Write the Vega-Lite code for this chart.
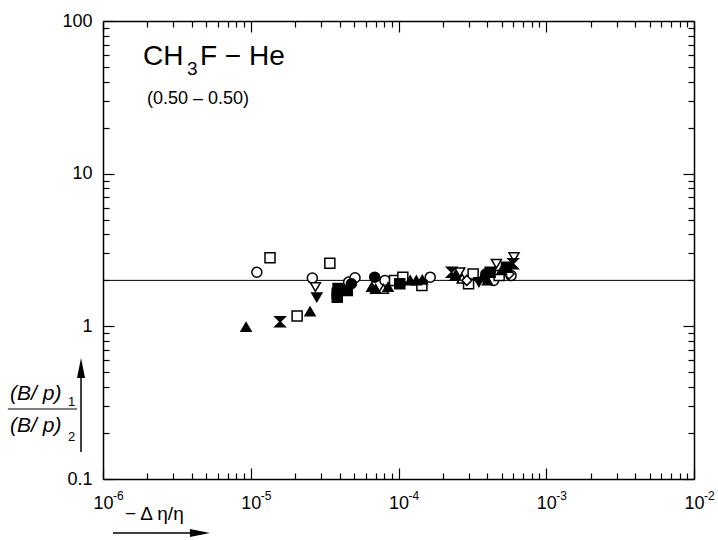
{
  "$schema": "https://vega.github.io/schema/vega-lite/v6.json",
  "width": 591,
  "height": 458,
  "autosize": "none",
  "padding": {"left": 103, "top": 21, "right": 24, "bottom": 61},
  "background": "white",
  "config": {
    "view": {"stroke": null},
    "axis": {
      "grid": false,
      "domainColor": "black",
      "domainWidth": 1.5,
      "tickColor": "black",
      "tickWidth": 1.2,
      "labelFont": "Liberation Sans",
      "labelFontSize": 18,
      "labelColor": "black",
      "labelOverlap": false,
      "labelFlush": false,
      "title": null
    }
  },
  "datasets": {
    "points": [
      {"x": 1.10e-5, "y": 2.26, "series": "S1"},
      {"x": 2.61e-5, "y": 2.07, "series": "S1"},
      {"x": 4.6e-5, "y": 1.95, "series": "S1"},
      {"x": 5.08e-5, "y": 2.08, "series": "S1"},
      {"x": 8.1e-5, "y": 2.0, "series": "S1"},
      {"x": 1.64e-4, "y": 2.1, "series": "S1"},
      {"x": 4.4e-4, "y": 2.0, "series": "S1"},
      {"x": 5.78e-4, "y": 2.15, "series": "S1"},
      {"x": 1.35e-5, "y": 2.81, "series": "S2"},
      {"x": 2.06e-5, "y": 1.17, "series": "S2"},
      {"x": 3.43e-5, "y": 2.59, "series": "S2"},
      {"x": 9.4e-5, "y": 2.0, "series": "S2"},
      {"x": 1.07e-4, "y": 2.1, "series": "S2"},
      {"x": 1.44e-4, "y": 1.85, "series": "S2"},
      {"x": 2.98e-4, "y": 1.9, "series": "S2"},
      {"x": 3.2e-4, "y": 2.2, "series": "S2"},
      {"x": 4.8e-4, "y": 2.15, "series": "S2"},
      {"x": 2.74e-5, "y": 1.81, "series": "S6"},
      {"x": 2.6e-4, "y": 2.26, "series": "S6"},
      {"x": 4.6e-4, "y": 2.57, "series": "S6"},
      {"x": 6.05e-4, "y": 2.84, "series": "S6"},
      {"x": 7.9e-5, "y": 1.76, "series": "S9"},
      {"x": 2.7e-4, "y": 2.05, "series": "S9"},
      {"x": 2.9e-4, "y": 2.0, "series": "S10"},
      {"x": 5.6e-4, "y": 2.2, "series": "S10"},
      {"x": 9.3e-6, "y": 0.99, "series": "S3"},
      {"x": 2.52e-5, "y": 1.25, "series": "S3"},
      {"x": 6.6e-5, "y": 1.81, "series": "S3"},
      {"x": 7.0e-5, "y": 1.76, "series": "S3"},
      {"x": 8.5e-5, "y": 1.81, "series": "S3"},
      {"x": 1.2e-4, "y": 2.0, "series": "S3"},
      {"x": 1.32e-4, "y": 2.0, "series": "S3"},
      {"x": 1.45e-4, "y": 2.02, "series": "S3"},
      {"x": 2.42e-4, "y": 2.15, "series": "S3"},
      {"x": 3.7e-4, "y": 2.1, "series": "S3"},
      {"x": 4.0e-4, "y": 2.0, "series": "S3"},
      {"x": 4.99e-4, "y": 2.33, "series": "S3"},
      {"x": 1.58e-5, "y": 1.07, "series": "S4"},
      {"x": 2.29e-4, "y": 2.26, "series": "S4"},
      {"x": 5.97e-4, "y": 2.57, "series": "S4"},
      {"x": 2.8e-5, "y": 1.55, "series": "S5"},
      {"x": 3.5e-4, "y": 1.95, "series": "S5"},
      {"x": 3.85e-5, "y": 1.55, "series": "S7"},
      {"x": 3.85e-5, "y": 1.65, "series": "S7"},
      {"x": 3.9e-5, "y": 1.77, "series": "S7"},
      {"x": 4.5e-5, "y": 1.72, "series": "S7"},
      {"x": 1.02e-4, "y": 1.9, "series": "S7"},
      {"x": 4.17e-4, "y": 2.26, "series": "S7"},
      {"x": 5.38e-4, "y": 2.44, "series": "S7"},
      {"x": 4.8e-5, "y": 1.9, "series": "S8"},
      {"x": 6.9e-5, "y": 2.1, "series": "S8"},
      {"x": 3.9e-4, "y": 2.2, "series": "S8"}
    ],
    "exponents": [
      {"x": 1e-6, "exp": "-6"},
      {"x": 1e-5, "exp": "-5"},
      {"x": 1e-4, "exp": "-4"},
      {"x": 1e-3, "exp": "-3"},
      {"x": 1e-2, "exp": "-2"}
    ]
  },
  "layer": [
    {
      "data": {"values": [{}]},
      "mark": {"type": "rule", "color": "black", "strokeWidth": 1},
      "encoding": {"y": {"datum": 2, "type": "quantitative", "axis": null}}
    },
    {
      "data": {"name": "points"},
      "mark": {"type": "point", "filled": true, "stroke": "black", "strokeWidth": 1.5, "size": 100, "opacity": 1},
      "encoding": {
        "x": {
          "field": "x", "type": "quantitative",
          "scale": {"type": "log", "domain": [1e-6, 1e-2], "nice": false},
          "axis": {
            "orient": "bottom",
            "values": [1e-6,2e-6,3e-6,4e-6,5e-6,6e-6,7e-6,8e-6,9e-6,1e-5,2e-5,3e-5,4e-5,5e-5,6e-5,7e-5,8e-5,9e-5,1e-4,2e-4,3e-4,4e-4,5e-4,6e-4,7e-4,8e-4,9e-4,1e-3,2e-3,3e-3,4e-3,5e-3,6e-3,7e-3,8e-3,9e-3,1e-2],
            "tickSize": {"condition": {"test": "abs(log(datum.value)/LN10 - round(log(datum.value)/LN10)) < 0.001", "value": -11}, "value": -6},
            "labelPadding": 26,
            "labelExpr": "abs(log(datum.value)/LN10 - round(log(datum.value)/LN10)) < 0.001 ? '10' : ''"
          }
        },
        "y": {
          "field": "y", "type": "quantitative",
          "scale": {"type": "log", "domain": [0.1, 100], "nice": false},
          "axis": {
            "orient": "left",
            "values": [0.1,0.2,0.3,0.4,0.5,0.6,0.7,0.8,0.9,1,2,3,4,5,6,7,8,9,10,20,30,40,50,60,70,80,90,100],
            "tickSize": {"condition": {"test": "abs(log(datum.value)/LN10 - round(log(datum.value)/LN10)) < 0.001", "value": -11}, "value": -6},
            "labelPadding": 22,
            "labelExpr": "abs(log(datum.value)/LN10 - round(log(datum.value)/LN10)) < 0.001 ? (datum.value > 50 ? '100' : datum.value > 5 ? '10' : datum.value > 0.5 ? '1' : '0.1') : ''"
          }
        },
        "shape": {
          "field": "series", "type": "nominal", "legend": null,
          "scale": {
            "domain": ["S1","S2","S3","S4","S5","S6","S7","S8","S9","S10"],
            "range": ["circle","square","triangle-up","M-1,-1L1,-1L-1,1L1,1Z","triangle-down","triangle-down","square","circle","triangle-up","diamond"]
          }
        },
        "fill": {
          "field": "series", "type": "nominal", "legend": null,
          "scale": {
            "domain": ["S1","S2","S3","S4","S5","S6","S7","S8","S9","S10"],
            "range": ["white","white","black","black","black","white","black","black","white","white"]
          }
        }
      }
    },
    {
      "data": {"name": "exponents"},
      "mark": {"type": "text", "font": "Liberation Sans", "fontSize": 12, "align": "left", "baseline": "alphabetic", "dx": 10, "color": "black"},
      "encoding": {
        "x": {"field": "x", "type": "quantitative", "axis": null},
        "y": {"datum": 0.0729, "type": "quantitative", "axis": null},
        "text": {"field": "exp"}
      }
    },
    {
      "data": {"values": [{}]},
      "mark": {"type": "text", "text": "CH", "font": "Liberation Sans", "fontSize": 28, "align": "left", "baseline": "alphabetic", "color": "black"},
      "encoding": {
        "x": {"datum": 1.865e-6, "type": "quantitative",
          "axis": {
            "orient": "top", "labels": false,
            "values": [1e-6,2e-6,3e-6,4e-6,5e-6,6e-6,7e-6,8e-6,9e-6,1e-5,2e-5,3e-5,4e-5,5e-5,6e-5,7e-5,8e-5,9e-5,1e-4,2e-4,3e-4,4e-4,5e-4,6e-4,7e-4,8e-4,9e-4,1e-3,2e-3,3e-3,4e-3,5e-3,6e-3,7e-3,8e-3,9e-3,1e-2],
            "tickSize": {"condition": {"test": "abs(log(datum.value)/LN10 - round(log(datum.value)/LN10)) < 0.001", "value": -11}, "value": -6}
          }},
        "y": {"datum": 51.5, "type": "quantitative",
          "axis": {
            "orient": "right", "labels": false,
            "values": [0.1,0.2,0.3,0.4,0.5,0.6,0.7,0.8,0.9,1,2,3,4,5,6,7,8,9,10,20,30,40,50,60,70,80,90,100],
            "tickSize": {"condition": {"test": "abs(log(datum.value)/LN10 - round(log(datum.value)/LN10)) < 0.001", "value": -11}, "value": -6}
          }}
      }
    },
    {
      "data": {"values": [{}]},
      "mark": {"type": "text", "text": "3", "font": "Liberation Sans", "fontSize": 19, "align": "left", "baseline": "alphabetic", "color": "black"},
      "encoding": {
        "x": {"datum": 3.70e-6, "type": "quantitative", "axis": null},
        "y": {"datum": 44.3, "type": "quantitative", "axis": null}
      }
    },
    {
      "data": {"values": [{}]},
      "mark": {"type": "text", "text": "F − He", "font": "Liberation Sans", "fontSize": 28, "align": "left", "baseline": "alphabetic", "color": "black"},
      "encoding": {
        "x": {"datum": 4.53e-6, "type": "quantitative", "axis": null},
        "y": {"datum": 51.5, "type": "quantitative", "axis": null}
      }
    },
    {
      "data": {"values": [{}]},
      "mark": {"type": "text", "text": "(0.50 – 0.50)", "font": "Liberation Sans", "fontSize": 18, "align": "left", "baseline": "alphabetic", "color": "black"},
      "encoding": {
        "x": {"datum": 1.985e-6, "type": "quantitative", "axis": null},
        "y": {"datum": 28.6, "type": "quantitative", "axis": null}
      }
    },
    {
      "data": {"values": [{}]},
      "mark": {"type": "text", "text": "(B/ p)", "font": "Liberation Sans", "fontStyle": "italic", "fontSize": 21, "align": "left", "baseline": "alphabetic", "color": "black"},
      "encoding": {
        "x": {"datum": 2.35e-7, "type": "quantitative", "axis": null},
        "y": {"datum": 0.3292, "type": "quantitative", "axis": null}
      }
    },
    {
      "data": {"values": [{}]},
      "mark": {"type": "text", "text": "1", "font": "Liberation Sans", "fontSize": 13, "align": "left", "baseline": "alphabetic", "color": "black"},
      "encoding": {
        "x": {"datum": 5.8e-7, "type": "quantitative", "axis": null},
        "y": {"datum": 0.3007, "type": "quantitative", "axis": null}
      }
    },
    {
      "data": {"values": [{}]},
      "mark": {"type": "text", "text": "(B/ p)", "font": "Liberation Sans", "fontStyle": "italic", "fontSize": 21, "align": "left", "baseline": "alphabetic", "color": "black"},
      "encoding": {
        "x": {"datum": 2.35e-7, "type": "quantitative", "axis": null},
        "y": {"datum": 0.2032, "type": "quantitative", "axis": null}
      }
    },
    {
      "data": {"values": [{}]},
      "mark": {"type": "text", "text": "2", "font": "Liberation Sans", "fontSize": 13, "align": "left", "baseline": "alphabetic", "color": "black"},
      "encoding": {
        "x": {"datum": 5.8e-7, "type": "quantitative", "axis": null},
        "y": {"datum": 0.1773, "type": "quantitative", "axis": null}
      }
    },
    {
      "data": {"values": [{}]},
      "mark": {"type": "rule", "color": "black", "strokeWidth": 1.2},
      "encoding": {
        "x": {"datum": 2.27e-7, "type": "quantitative", "axis": null},
        "x2": {"datum": 6.67e-7},
        "y": {"datum": 0.2875, "type": "quantitative", "axis": null}
      }
    },
    {
      "data": {"values": [{}]},
      "mark": {"type": "rule", "color": "black", "strokeWidth": 1.5},
      "encoding": {
        "x": {"datum": 7.1e-7, "type": "quantitative", "axis": null},
        "y": {"datum": 0.1503, "type": "quantitative", "axis": null},
        "y2": {"datum": 0.5023}
      }
    },
    {
      "data": {"values": [{}]},
      "mark": {"type": "point", "shape": "M0,-1L0.4,1L-0.4,1Z", "size": 400, "filled": true, "color": "black", "opacity": 1},
      "encoding": {
        "x": {"datum": 7.1e-7, "type": "quantitative", "axis": null},
        "y": {"datum": 0.533, "type": "quantitative", "axis": null}
      }
    },
    {
      "data": {"values": [{}]},
      "mark": {"type": "text", "text": "− Δ η/η", "font": "Liberation Sans", "fontSize": 19, "align": "left", "baseline": "alphabetic", "color": "black"},
      "encoding": {
        "x": {"datum": 1.41e-6, "type": "quantitative", "axis": null},
        "y": {"datum": 0.0539, "type": "quantitative", "axis": null}
      }
    },
    {
      "data": {"values": [{}]},
      "mark": {"type": "rule", "color": "black", "strokeWidth": 1.5},
      "encoding": {
        "x": {"datum": 1.169e-6, "type": "quantitative", "axis": null},
        "x2": {"datum": 4.195e-6},
        "y": {"datum": 0.04428, "type": "quantitative", "axis": null}
      }
    },
    {
      "data": {"values": [{}]},
      "mark": {"type": "point", "shape": "M1,0L-1,0.4L-1,-0.4Z", "size": 400, "filled": true, "color": "black", "opacity": 1},
      "encoding": {
        "x": {"datum": 4.53e-6, "type": "quantitative", "axis": null},
        "y": {"datum": 0.04428, "type": "quantitative", "axis": null}
      }
    }
  ],
  "resolve": {"axis": {"x": "independent", "y": "independent"}}
}
